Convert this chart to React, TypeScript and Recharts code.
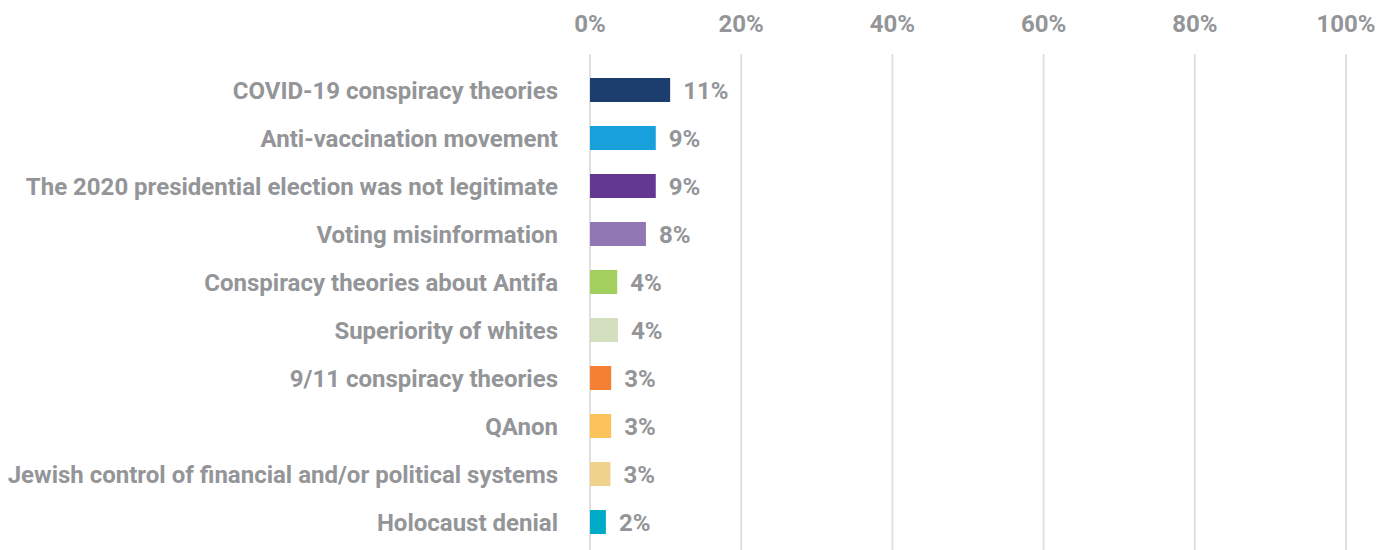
import React from 'react';
import { BarChart, Bar, XAxis, YAxis, CartesianGrid, Cell, LabelList } from 'recharts';

const categories = [
  'COVID-19 conspiracy theories',
  'Anti-vaccination movement',
  'The 2020 presidential election was not legitimate',
  'Voting misinformation',
  'Conspiracy theories about Antifa',
  'Superiority of whites',
  '9/11 conspiracy theories',
  'QAnon',
  'Jewish control of financial and/or political systems',
  'Holocaust denial',
];

// bar lengths, labels as printed
const values = [10.6, 8.7, 8.7, 7.4, 3.6, 3.7, 2.8, 2.8, 2.7, 2.1];
const valueLabels = ['11%', '9%', '9%', '8%', '4%', '4%', '3%', '3%', '3%', '2%'];
const barColors = [
  '#1c3e6f',
  '#17a0dc',
  '#633892',
  '#9178b5',
  '#a2cf5e',
  '#d4dfbf',
  '#f48034',
  '#fbc35a',
  '#eed28b',
  '#00abc7',
];
const xTicks = [0, 20, 40, 60, 80, 100];

const TEXT_GRAY = '#939598';
const FONT = { fontSize: 24, fontWeight: 700, fontFamily: 'Roboto' };

const data = categories.map((name, i) => ({
  name,
  value: values[i],
  label: valueLabels[i],
}));

export default function App() {
  return (
    <div style={{ position: 'absolute', left: 0, top: 0, background: '#fff' }}>
      <BarChart
        width={1394}
        height={550}
        data={data}
        layout="vertical"
        margin={{ top: 0, right: 48, bottom: 0, left: 0 }}
        barSize={24}
      >
        <CartesianGrid horizontal={false} stroke="#e0e0e0" strokeWidth={2} />
        <XAxis
          type="number"
          orientation="top"
          domain={[0, 100]}
          ticks={xTicks}
          tickFormatter={(v) => `${v}%`}
          axisLine={false}
          tickLine={false}
          tickSize={0}
          tickMargin={22}
          height={54}
          tick={{ fill: TEXT_GRAY, ...FONT }}
          interval={0}
        />
        <YAxis
          type="category"
          dataKey="name"
          width={590}
          axisLine={false}
          tickLine={false}
          tickSize={0}
          tickMargin={32}
          padding={{ top: 12, bottom: 4 }}
          interval={0}
          tick={{ fill: TEXT_GRAY, ...FONT }}
        />
        <Bar dataKey="value" isAnimationActive={false}>
          {data.map((d, i) => (
            <Cell key={`cell-${i}`} fill={barColors[i]} />
          ))}
          <LabelList
            dataKey="label"
            position="right"
            offset={13}
            fill={TEXT_GRAY}
            style={FONT}
          />
        </Bar>
      </BarChart>
    </div>
  );
}
